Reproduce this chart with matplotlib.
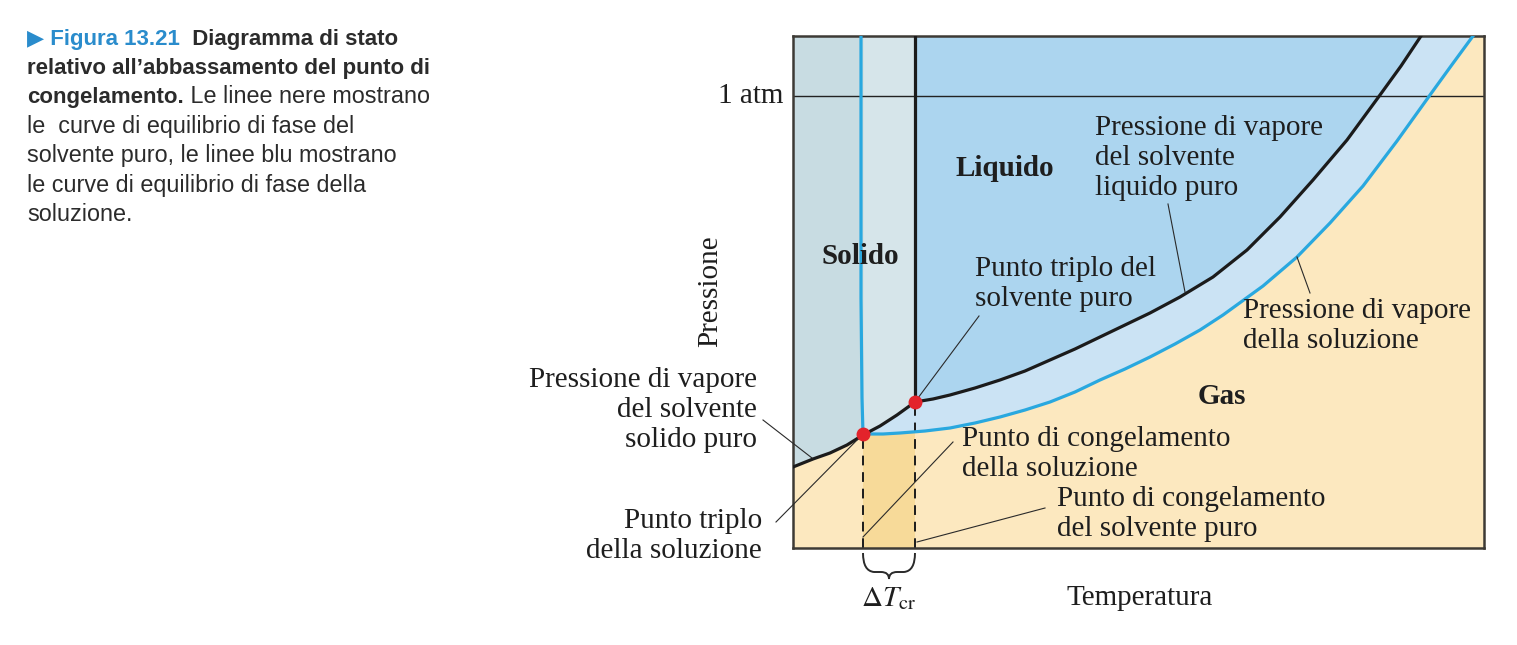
import matplotlib
matplotlib.use('Agg')
import matplotlib.pyplot as plt
import numpy as np
from matplotlib.path import Path
from matplotlib.patches import PathPatch

W, H = 1517, 645

# data (temperature / pressure in arbitrary units)
solid_vap_T = [0, 20, 37, 54, 70, 87, 104, 122]
solid_vap_P = [81, 89, 95, 103, 113, 122, 133, 146]

liq_vap_T = [122, 140, 157, 182, 207, 232, 257, 282, 307, 332, 357, 387, 420,
             454, 487, 520, 554, 587, 608, 628]
liq_vap_P = [146, 149, 153, 160, 168, 177, 188, 199, 211, 223, 235, 251, 271,
             298, 331, 368, 408, 453, 482, 512]

sol_vap_T = [70, 90, 107, 132, 157, 182, 207, 232, 257, 282, 307, 332, 357,
             382, 407, 430, 470, 504, 537, 570, 604, 637, 658, 680]
sol_vap_P = [114, 114, 115, 117, 120, 125, 131, 138, 146, 156, 168, 179, 191,
             204, 218, 233, 262, 291, 325, 362, 407, 453, 482, 512]

sol_melt_T = [70, 69, 68, 68]
sol_melt_P = [114, 150, 250, 512]

pure_melt_T = [122, 122]
pure_melt_P = [146, 512]

triple_pure = (122, 146)
triple_sol = (70, 114)
one_atm = 452

c_gas = '#fce8bf'
c_gas_dark = '#f7da99'
c_solid = '#c8dce2'
c_solid_light = '#d6e5ea'
c_liquid = '#acd5ef'
c_band = '#cbe3f4'
c_blue = '#29a8df'
c_black = '#1b1b1b'

serif = ['Liberation Serif', 'DejaVu Serif']
plt.rcParams['mathtext.fontset'] = 'stix'

fig = plt.figure(figsize=(W / 100, H / 100), dpi=100)
ax = fig.add_axes([793 / W, (H - 548) / H, 691 / W, 512 / H])
ax.set_xlim(0, 691)
ax.set_ylim(0, 512)
ax.set_xticks([])
ax.set_yticks([])
ax.set_facecolor(c_gas)
for s in ax.spines.values():
    s.set_color('#3d3a35')
    s.set_linewidth(1.8)

# regions
ax.axvspan(triple_sol[0], triple_pure[0], color=c_gas_dark, lw=0, zorder=0.5)
ax.fill_between(sol_vap_T, sol_vap_P, 512, color=c_band, lw=0, zorder=1)
ax.fill_between(liq_vap_T, liq_vap_P, 512, color=c_liquid, lw=0, zorder=1.1)
ax.fill_between(solid_vap_T[:5], solid_vap_P[:5], 512, color=c_solid, lw=0, zorder=1.2)
ax.fill_between(solid_vap_T[4:], solid_vap_P[4:], 512, color=c_solid_light, lw=0, zorder=1.2)

# curves
ax.axhline(one_atm, color='#222222', lw=1.0, zorder=2)
ax.plot(sol_vap_T, sol_vap_P, color=c_blue, lw=2.3, zorder=3)
ax.plot(sol_melt_T, sol_melt_P, color=c_blue, lw=2.3, zorder=3)
ax.plot(solid_vap_T, solid_vap_P, color=c_black, lw=2.3, zorder=3.5)
ax.plot(liq_vap_T, liq_vap_P, color=c_black, lw=2.3, zorder=3.5)
ax.plot(pure_melt_T, pure_melt_P, color=c_black, lw=2.3, zorder=3.5)
ax.plot([triple_sol[0]] * 2, [0, triple_sol[1]], color=c_black, lw=1.4,
        dashes=(5, 3.5), zorder=2.5)
ax.plot([triple_pure[0]] * 2, [0, triple_pure[1]], color=c_black, lw=1.4,
        dashes=(5, 3.5), zorder=2.5)
ax.plot(*zip(triple_sol, triple_pure), 'o', ls='none', color='#e3232b',
        ms=9, mec='#e3232b', zorder=5)

# leader lines
leaders = [((375, 344), (392, 256)),
           ((517, 255), (504, 291)),
           ((186, 232), triple_pure),
           ((-30, 128), (19, 90)),
           ((-17, 26), triple_sol),
           ((160, 106), (70, 11)),
           ((252, 40), (124, 6))]
for a, b in leaders:
    ax.plot([a[0], b[0]], [a[1], b[1]], color='#2a2a2a', lw=0.8,
            zorder=4, clip_on=False)

fs = 21
txt = dict(family=serif, fontsize=fs, color='#1e1e1e', linespacing=1.22)
ax.text(212, 380, 'Liquido', ha='center', va='center', fontweight='bold', **txt)
ax.text(67, 291, 'Solido', ha='center', va='center', fontweight='bold', **txt)
ax.text(429, 151, 'Gas', ha='center', va='center', fontweight='bold', **txt)
ax.text(302, 390, 'Pressione di vapore\ndel solvente\nliquido puro',
        ha='left', va='center', **txt)
ax.text(182, 264, 'Punto triplo del\nsolvente puro', ha='left', va='center', **txt)
ax.text(450, 222, 'Pressione di vapore\ndella soluzione', ha='left', va='center', **txt)
ax.text(169, 94, 'Punto di congelamento\ndella soluzione', ha='left', va='center', **txt)
ax.text(264, 34, 'Punto di congelamento\ndel solvente puro', ha='left', va='center', **txt)
ax.text(-36, 138, 'Pressione di vapore\ndel solvente\nsolido puro',
        ha='right', va='center', multialignment='right', **txt)
ax.text(-31, 12, 'Punto triplo\ndella soluzione', ha='right', va='center',
        multialignment='right', **txt)
ax.text(-10, one_atm, '1 atm', ha='right', va='center', **txt)
ax.text(-83, 257, 'Pressione', ha='center', va='center', rotation=90, **txt)
ax.text(347, -50, 'Temperatura', ha='center', va='center', **txt)
ax.text(96, -50, r'$\Delta T_{\mathrm{cr}}$', ha='center', va='center',
        fontsize=fs, color='#1e1e1e')

# brace under the freezing point depression
x0, x1 = triple_sol[0], triple_pure[0]
xm = (x0 + x1) / 2
verts = [(x0, -5), (x0, -23), (x0 + 11, -24), (xm - 8, -24),
         (xm, -24), (xm, -31), (xm, -24), (xm + 8, -24),
         (x1 - 11, -24), (x1, -23), (x1, -5)]
codes = [Path.MOVETO, Path.CURVE3, Path.CURVE3, Path.LINETO,
         Path.CURVE3, Path.CURVE3, Path.CURVE3, Path.CURVE3,
         Path.LINETO, Path.CURVE3, Path.CURVE3]
ax.add_patch(PathPatch(Path(verts, codes), fill=False, color='#2a2a2a',
                       lw=1.4, clip_on=False))

# caption
sans = ['Liberation Sans', 'DejaVu Sans']
renderer = fig.canvas.get_renderer()
blue_cap = '#2a8ccc'
dark = '#2b2b2b'
caption = [
    [('\u25b6 Figura 13.21', 'bold', blue_cap), ('  Diagramma di stato', 'bold', dark)],
    [('relativo all\u2019abbassamento del punto di', 'bold', dark)],
    [('congelamento.', 'bold', dark), (' Le linee nere mostrano', 'normal', dark)],
    [('le  curve di equilibrio di fase del', 'normal', dark)],
    [('solvente puro, le linee blu mostrano', 'normal', dark)],
    [('le curve di equilibrio di fase della', 'normal', dark)],
    [('soluzione.', 'normal', dark)],
]
baselines = [45, 74, 103, 133, 162, 192, 221]
for parts, yb in zip(caption, baselines):
    x = 27
    for s, wt, col in parts:
        size = 16 if wt == 'bold' else 16.8
        t = fig.text(x / W, 1 - yb / H, s, family=sans, fontsize=size,
                     fontweight=wt, color=col, va='baseline', ha='left')
        x += t.get_window_extent(renderer).width

fig.savefig('out.png', dpi=100)
